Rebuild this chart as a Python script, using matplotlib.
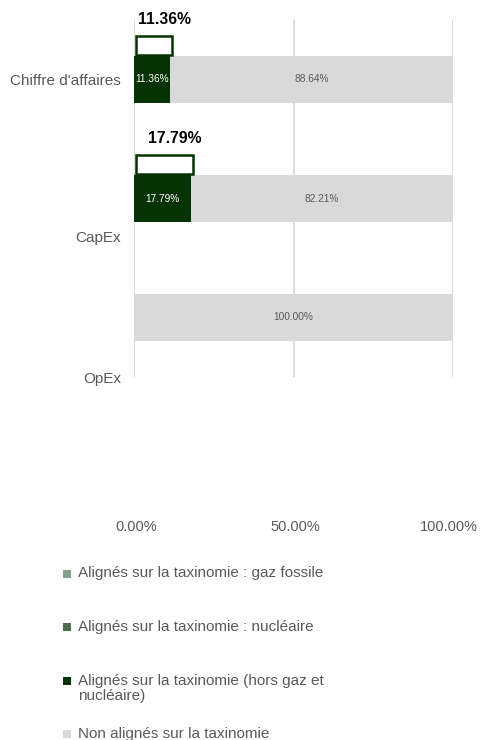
import matplotlib.pyplot as plt
import matplotlib.transforms as mtransforms
from matplotlib.patches import Rectangle

# data
categories = ["Chiffre d'affaires", "CapEx", "OpEx"]
gaz_fossile = [0.0, 0.0, 0.0]
nucleaire = [0.0, 0.0, 0.0]
hors_gaz_nuc = [11.36, 17.79, 0.0]
non_alignes = [88.64, 82.21, 100.0]
total_aligned = [11.36, 17.79, None]  # outlined marker boxes above bars
x_ticks = [0, 50, 100]
x_ticklabels = ["0.00%", "50.00%", "100.00%"]
series_labels = [
    "Alignés sur la taxinomie : gaz fossile",
    "Alignés sur la taxinomie : nucléaire",
    "Alignés sur la taxinomie (hors gaz et\nnucléaire)",
    "Non alignés sur la taxinomie",
]

C_FOSSILE = "#84a084"
C_NUC = "#4d6b4d"
C_HORS = "#063304"
C_NON = "#d9d9d9"
TXT = "#595959"

plt.rcParams["font.family"] = ["Liberation Sans", "DejaVu Sans"]

W, H = 481, 740
fig = plt.figure(figsize=(W / 100, H / 100), dpi=100)
ax = fig.add_axes([134 / W, 1 - 377 / H, (453 - 134) / W, (377 - 20) / H])

ypos = list(range(len(categories)))
bar_h = 0.40

# stacked horizontal bars
left = [0.0] * len(categories)
for vals, col in [(gaz_fossile, C_FOSSILE), (nucleaire, C_NUC),
                  (hors_gaz_nuc, C_HORS), (non_alignes, C_NON)]:
    ax.barh(ypos, vals, left=left, height=bar_h, color=col, zorder=3)
    left = [l + v for l, v in zip(left, vals)]

# inner labels
for y, v in zip(ypos, hors_gaz_nuc):
    if v > 0:
        ax.text(v / 2, y, f"{v:.2f}%", ha="center", va="center",
                fontsize=7.3, color="white", zorder=4)
for y, a, v in zip(ypos, hors_gaz_nuc, non_alignes):
    if v > 0:
        ax.text(a + v / 2, y, f"{v:.2f}%", ha="center", va="center",
                fontsize=7.3, color=TXT, zorder=4)

# outlined total-aligned boxes with bold labels
for y, t in zip(ypos, total_aligned):
    if t is None:
        continue
    ax.barh(y - 0.285, t, height=0.165, left=0.6, color="white",
            edgecolor=C_HORS, linewidth=1.8, zorder=3)
    ax.text(t / 2 + 4, y - 0.505, f"{t:.2f}%", ha="center", va="center",
            fontsize=11.3, fontweight="bold", color="black", clip_on=False)

ax.set_xlim(0, 100)
ax.set_ylim(2.5, -0.5)

ax.set_xticks(x_ticks)
ax.set_xticklabels(x_ticklabels)
ax.set_yticks([0, 1.32, 2.5])
ax.set_yticklabels(categories)
ax.tick_params(axis="x", length=0, pad=103, labelsize=10.5, labelcolor=TXT)
ax.tick_params(axis="y", length=0, pad=9.5, labelsize=11, labelcolor=TXT)

# nudge x tick labels like the original (last one sits a bit inside)
for lab, dx in zip(ax.get_xticklabels(), [2, 2, -4]):
    lab.set_transform(lab.get_transform() +
                      mtransforms.ScaledTranslation(dx / 100, 0, fig.dpi_scale_trans))

ax.grid(axis="x", color="#d9d9d9", linewidth=1.3, zorder=0)
for s in ax.spines.values():
    s.set_visible(False)

# legend, one entry every ~53 px, marker on the first text line
for i, (lab, col) in enumerate(zip(series_labels,
                                   (C_FOSSILE, C_NUC, C_HORS, C_NON))):
    yc = 573 + i * 53.5
    fig.add_artist(Rectangle((63 / W, 1 - (yc + 4.5) / H), 8 / W, 8 / H,
                             transform=fig.transFigure, color=col, lw=0))
    fig.text(78 / W, 1 - (yc - 6.5) / H, lab, ha="left", va="top",
             fontsize=11, color=TXT, linespacing=1.1)

fig.savefig("out.png", dpi=100)
